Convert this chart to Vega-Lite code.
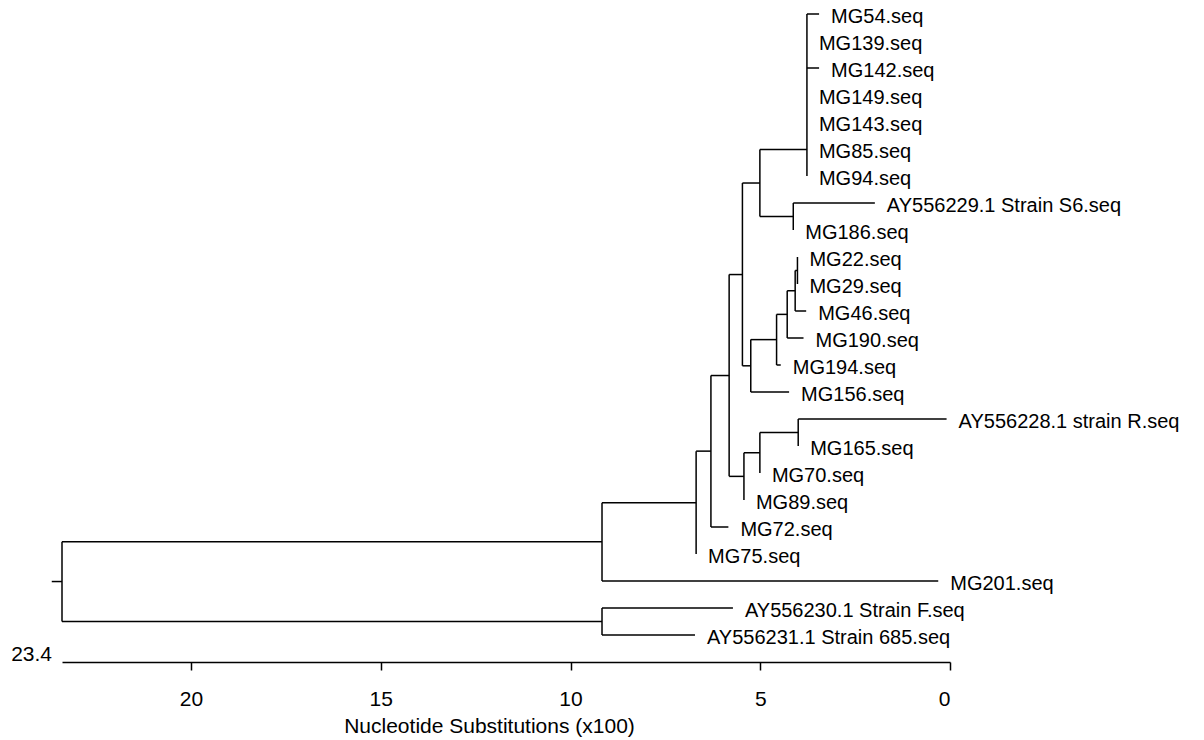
{
  "$schema": "https://vega.github.io/schema/vega-lite/v6.json",
  "autosize": {"type": "none"},
  "width": 888,
  "height": 648,
  "padding": {"left": 62, "top": 14, "right": 254, "bottom": 78},
  "background": "white",
  "config": {"view": {"stroke": null}, "font": "Liberation Sans"},
  "datasets": {
    "segments": [
      {"x1": 23.67, "x2": 23.4, "y1": 21.02, "y2": 21.02},
      {"x1": 23.4, "x2": 23.4, "y1": 19.55, "y2": 22.5},
      {"x1": 23.4, "x2": 9.17, "y1": 19.55, "y2": 19.55},
      {"x1": 23.4, "x2": 9.17, "y1": 22.5, "y2": 22.5},
      {"x1": 9.17, "x2": 9.17, "y1": 18.1, "y2": 21},
      {"x1": 9.17, "x2": 0.31, "y1": 21, "y2": 21},
      {"x1": 9.17, "x2": 6.69, "y1": 18.1, "y2": 18.1},
      {"x1": 9.17, "x2": 9.17, "y1": 22, "y2": 23},
      {"x1": 9.17, "x2": 5.72, "y1": 22, "y2": 22},
      {"x1": 9.17, "x2": 6.72, "y1": 23, "y2": 23},
      {"x1": 6.69, "x2": 6.69, "y1": 16.19, "y2": 20},
      {"x1": 6.69, "x2": 6.3, "y1": 16.19, "y2": 16.19},
      {"x1": 6.3, "x2": 6.3, "y1": 13.39, "y2": 19},
      {"x1": 6.3, "x2": 5.82, "y1": 13.39, "y2": 13.39},
      {"x1": 6.3, "x2": 5.84, "y1": 19, "y2": 19},
      {"x1": 5.82, "x2": 5.82, "y1": 9.65, "y2": 17.125},
      {"x1": 5.82, "x2": 5.47, "y1": 9.65, "y2": 9.65},
      {"x1": 5.82, "x2": 5.43, "y1": 17.125, "y2": 17.125},
      {"x1": 5.47, "x2": 5.47, "y1": 6.26, "y2": 13.03},
      {"x1": 5.47, "x2": 5.01, "y1": 6.26, "y2": 6.26},
      {"x1": 5.47, "x2": 5.25, "y1": 13.03, "y2": 13.03},
      {"x1": 5.01, "x2": 5.01, "y1": 5.02, "y2": 7.5},
      {"x1": 5.01, "x2": 3.77, "y1": 5.02, "y2": 5.02},
      {"x1": 5.01, "x2": 4.13, "y1": 7.5, "y2": 7.5},
      {"x1": 3.77, "x2": 3.77, "y1": 0, "y2": 6},
      {"x1": 3.77, "x2": 3.45, "y1": 0, "y2": 0},
      {"x1": 3.77, "x2": 3.45, "y1": 2, "y2": 2},
      {"x1": 4.13, "x2": 4.13, "y1": 7, "y2": 8},
      {"x1": 4.13, "x2": 1.98, "y1": 7, "y2": 7},
      {"x1": 5.25, "x2": 5.25, "y1": 12.06, "y2": 14},
      {"x1": 5.25, "x2": 4.57, "y1": 12.06, "y2": 12.06},
      {"x1": 5.25, "x2": 4.24, "y1": 14, "y2": 14},
      {"x1": 4.57, "x2": 4.57, "y1": 11.125, "y2": 13},
      {"x1": 4.57, "x2": 4.29, "y1": 11.125, "y2": 11.125},
      {"x1": 4.57, "x2": 4.46, "y1": 13, "y2": 13},
      {"x1": 4.29, "x2": 4.29, "y1": 10.25, "y2": 12},
      {"x1": 4.29, "x2": 4.08, "y1": 10.25, "y2": 10.25},
      {"x1": 4.29, "x2": 3.86, "y1": 12, "y2": 12},
      {"x1": 4.08, "x2": 4.08, "y1": 9.5, "y2": 11},
      {"x1": 4.08, "x2": 4.02, "y1": 9.5, "y2": 9.5},
      {"x1": 4.08, "x2": 3.79, "y1": 11, "y2": 11},
      {"x1": 4.02, "x2": 4.02, "y1": 9, "y2": 10},
      {"x1": 5.43, "x2": 5.43, "y1": 16.25, "y2": 18},
      {"x1": 5.43, "x2": 5.01, "y1": 16.25, "y2": 16.25},
      {"x1": 5.01, "x2": 5.01, "y1": 15.5, "y2": 17},
      {"x1": 5.01, "x2": 4.0, "y1": 15.5, "y2": 15.5},
      {"x1": 4.0, "x2": 4.0, "y1": 15, "y2": 16},
      {"x1": 4.0, "x2": 0.09, "y1": 15, "y2": 15}
    ],
    "leaves": [
      {"name": "MG54.seq", "tip": 3.45, "row": 0},
      {"name": "MG139.seq", "tip": 3.77, "row": 1},
      {"name": "MG142.seq", "tip": 3.45, "row": 2},
      {"name": "MG149.seq", "tip": 3.77, "row": 3},
      {"name": "MG143.seq", "tip": 3.77, "row": 4},
      {"name": "MG85.seq", "tip": 3.77, "row": 5},
      {"name": "MG94.seq", "tip": 3.77, "row": 6},
      {"name": "AY556229.1 Strain S6.seq", "tip": 1.98, "row": 7},
      {"name": "MG186.seq", "tip": 4.13, "row": 8},
      {"name": "MG22.seq", "tip": 4.02, "row": 9},
      {"name": "MG29.seq", "tip": 4.02, "row": 10},
      {"name": "MG46.seq", "tip": 3.79, "row": 11},
      {"name": "MG190.seq", "tip": 3.86, "row": 12},
      {"name": "MG194.seq", "tip": 4.46, "row": 13},
      {"name": "MG156.seq", "tip": 4.24, "row": 14},
      {"name": "AY556228.1 strain R.seq", "tip": 0.09, "row": 15},
      {"name": "MG165.seq", "tip": 4.0, "row": 16},
      {"name": "MG70.seq", "tip": 5.01, "row": 17},
      {"name": "MG89.seq", "tip": 5.43, "row": 18},
      {"name": "MG72.seq", "tip": 5.84, "row": 19},
      {"name": "MG75.seq", "tip": 6.69, "row": 20},
      {"name": "MG201.seq", "tip": 0.31, "row": 21},
      {"name": "AY556230.1 Strain F.seq", "tip": 5.72, "row": 22},
      {"name": "AY556231.1 Strain 685.seq", "tip": 6.72, "row": 23}
    ],
    "scalelabel": [
      {"label": "23.4", "tip": 23.4, "row": 24}
    ]
  },
  "encoding": {
    "x": {
      "type": "quantitative",
      "scale": {"domain": [0, 23.4], "reverse": true, "nice": false, "zero": false},
      "axis": {
        "values": [20, 15, 10, 5, 0],
        "grid": false,
        "domainColor": "black", "domainWidth": 1.5,
        "tickColor": "black", "tickWidth": 1.5, "tickSize": 8,
        "labelColor": "black", "labelFontSize": 21, "labelFont": "Liberation Sans",
        "labelPadding": 18,
        "title": "Nucleotide Substitutions (x100)",
        "titleFont": "Liberation Sans", "titleFontSize": 21, "titleFontWeight": "normal",
        "titleColor": "black",
        "titleX": 427, "titleY": 70, "titleAlign": "center", "titleBaseline": "alphabetic"
      }
    },
    "y": {
      "type": "quantitative",
      "scale": {"domain": [0, 24], "reverse": true, "nice": false, "zero": false},
      "axis": null
    }
  },
  "layer": [
    {
      "data": {"name": "segments"},
      "mark": {"type": "rule", "color": "black", "strokeWidth": 1.5},
      "encoding": {
        "x": {"field": "x1", "type": "quantitative"},
        "x2": {"field": "x2"},
        "y": {"field": "y1", "type": "quantitative"},
        "y2": {"field": "y2"}
      }
    },
    {
      "data": {"name": "leaves"},
      "mark": {"type": "text", "align": "left", "baseline": "middle", "dx": 12, "dy": 3, "fontSize": 20, "font": "Liberation Sans", "color": "black"},
      "encoding": {
        "x": {"field": "tip", "type": "quantitative"},
        "y": {"field": "row", "type": "quantitative"},
        "text": {"field": "name"}
      }
    },
    {
      "data": {"name": "scalelabel"},
      "mark": {"type": "text", "align": "right", "baseline": "middle", "dx": -10, "dy": -7, "fontSize": 21, "font": "Liberation Sans", "color": "black"},
      "encoding": {
        "x": {"field": "tip", "type": "quantitative"},
        "y": {"field": "row", "type": "quantitative"},
        "text": {"field": "label"}
      }
    }
  ]
}
